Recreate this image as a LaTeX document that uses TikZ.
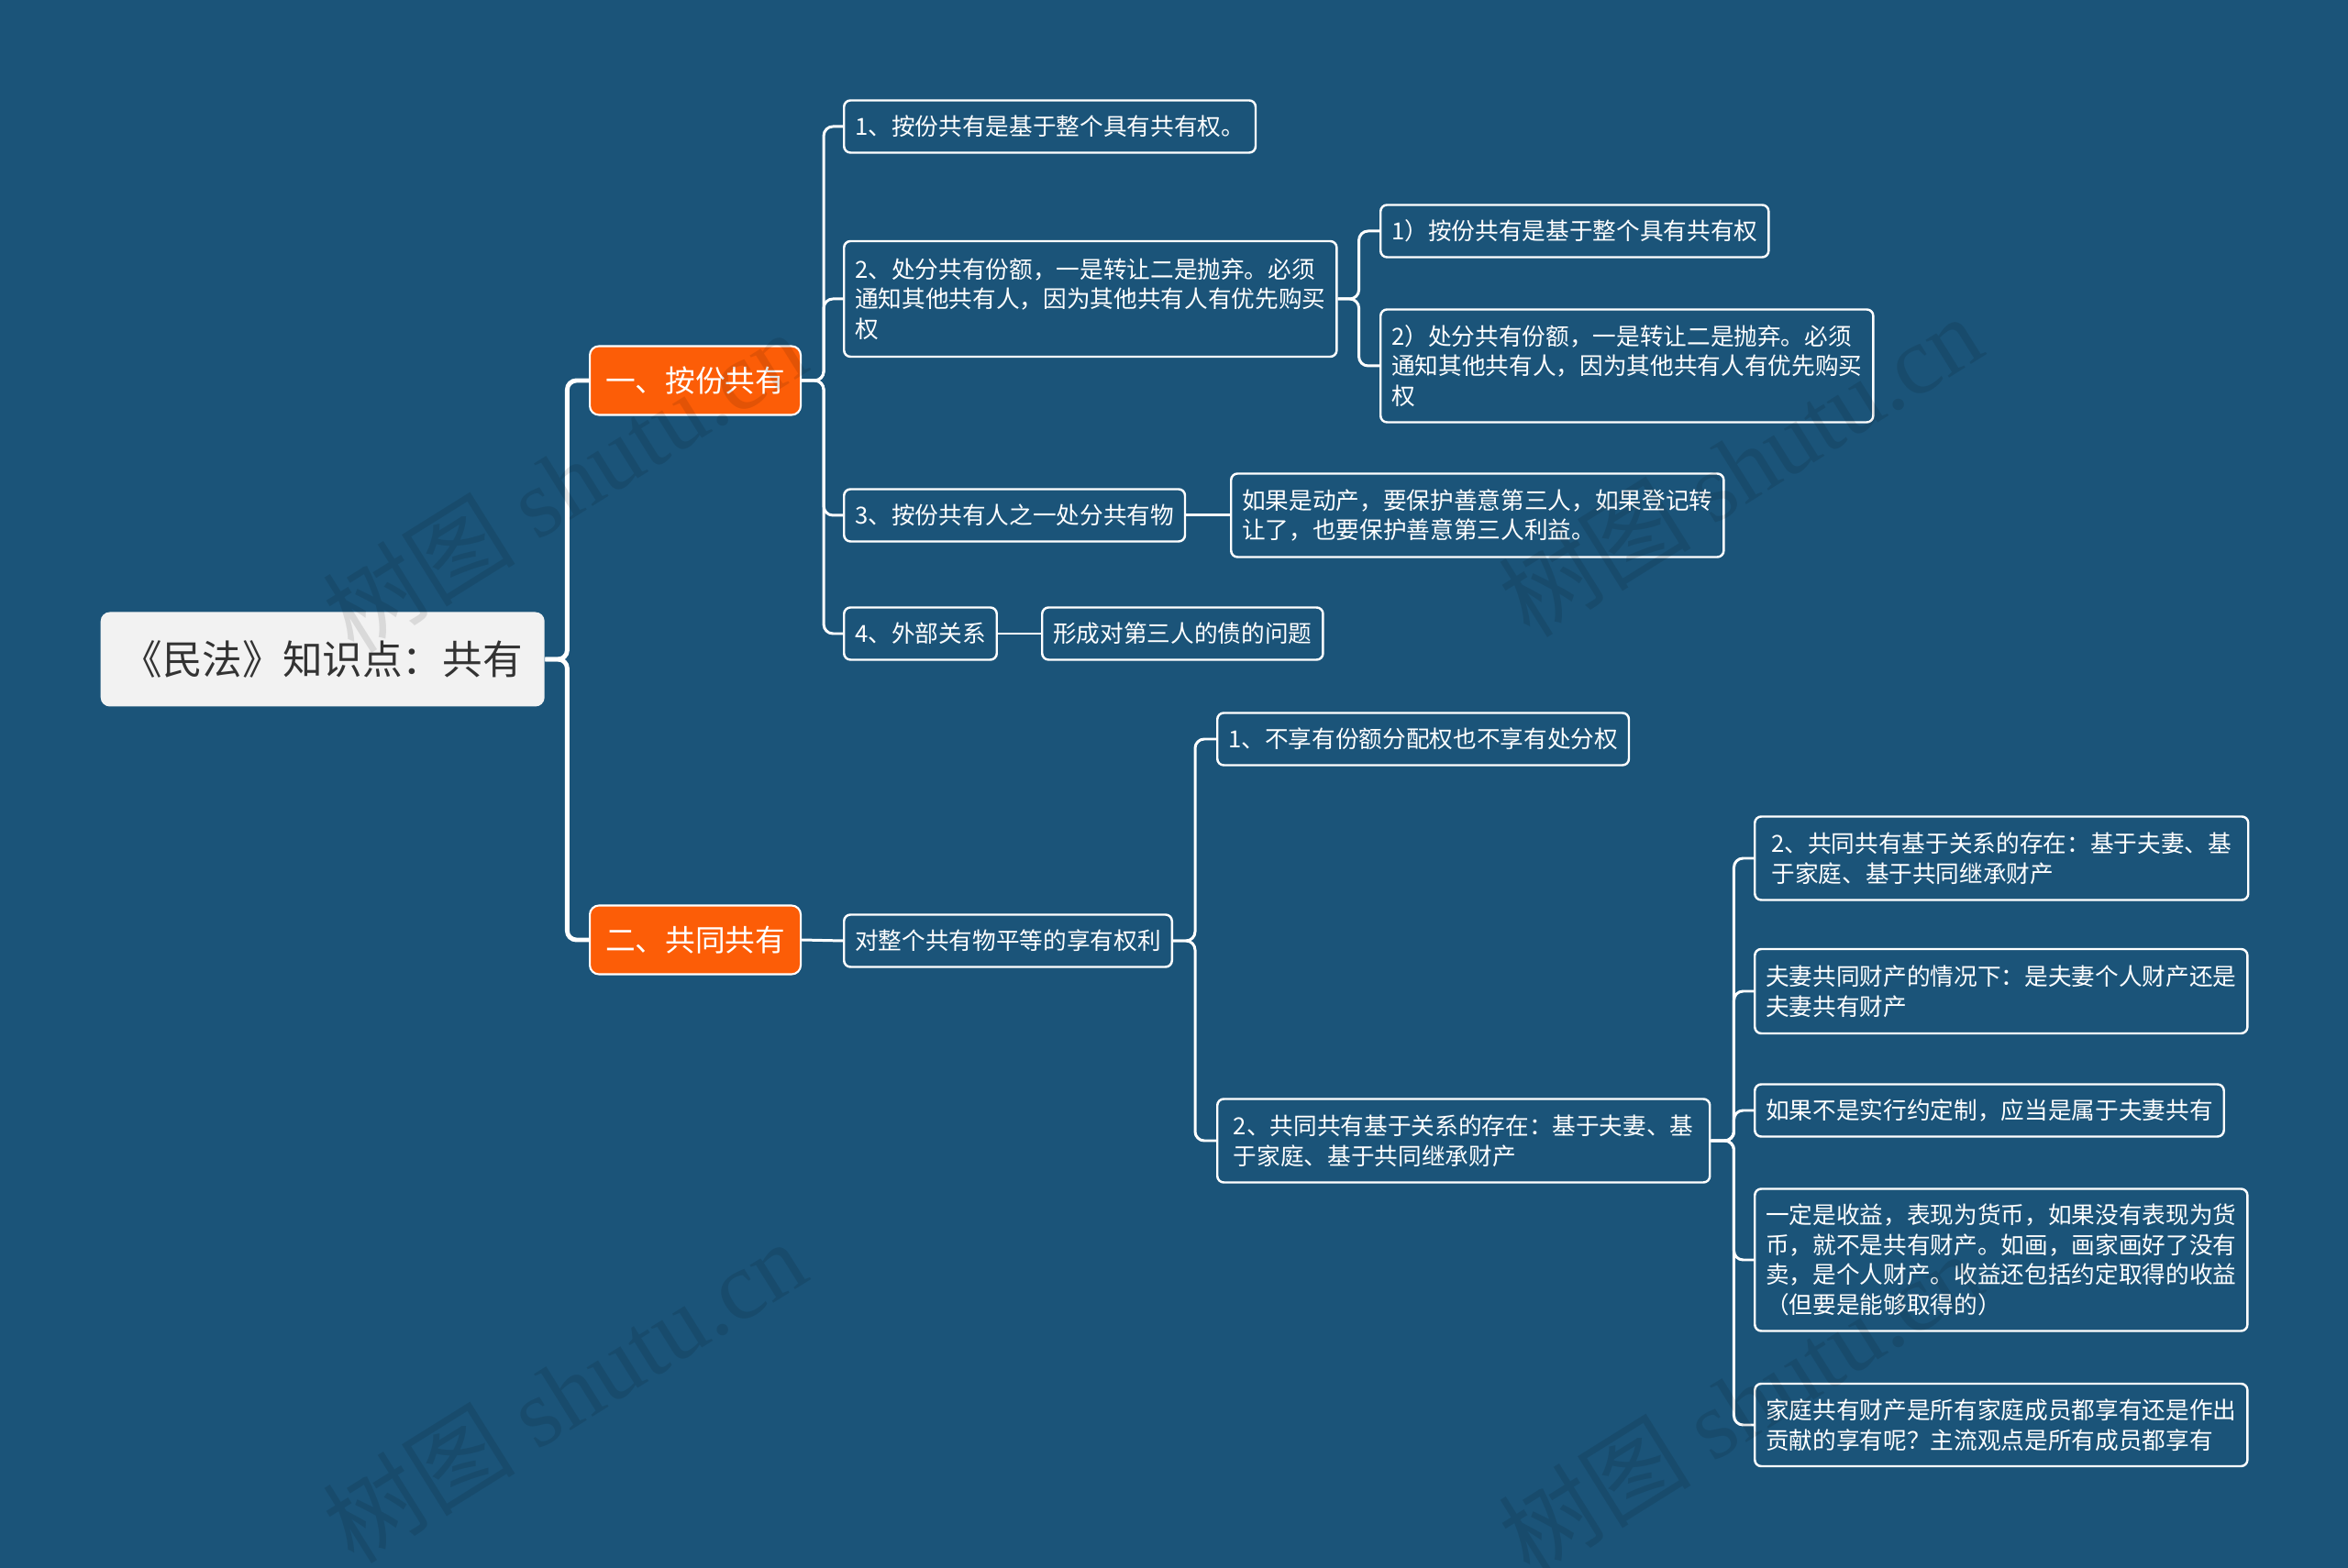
\documentclass[tikz,border=0pt]{standalone}
\usepackage{fontspec}
\setmainfont{Noto Sans CJK SC}
\newfontfamily\wmfont{Liberation Serif}
\usetikzlibrary{positioning}
\definecolor{bgblue}{HTML}{1B5479}
\definecolor{hotorange}{HTML}{FC5D07}
\definecolor{rootgray}{HTML}{F2F2F2}
\definecolor{rootink}{HTML}{333333}

\begin{document}
\begin{tikzpicture}[line join=round,
  leaf/.style={draw=white, line width=0.7pt, fill=bgblue, text=white, rounded corners=0.07cm,
    anchor=west, align=left, inner xsep=0.12cm, inner ysep=0.12cm, minimum height=0.57cm,
    font=\fontsize{7.3}{9.3}\selectfont},
  branch/.style={draw=white, line width=0.6pt, fill=hotorange, text=white, rounded corners=0.1cm,
    anchor=west, minimum width=2.30cm, minimum height=0.75cm, font=\fontsize{9.3}{11}\selectfont},
  link/.style={draw=white, line width=0.85pt, rounded corners=0.1cm},
  mainlink/.style={link, line width=1.4pt}]
  \fill[bgblue] (0,0) rectangle (25.6,-17.1);
  \useasboundingbox (0,0) rectangle (25.6,-17.1);

  \node[fill=rootgray, text=rootink, rounded corners=0.1cm, anchor=west, minimum width=4.84cm,
    minimum height=1.03cm, font=\fontsize{12.4}{14}\selectfont] (root) at (1.09,-7.19) {《民法》知识点：共有};

  \node[branch] (share) at (6.42,-4.15) {一、按份共有};
  \node[branch] (joint) at (6.42,-10.25) {二、共同共有};

  \node[leaf] (s1) at (9.19,-1.38) {1、按份共有是基于整个具有共有权。};
  \node[leaf, minimum height=1.26cm] (s2) at (9.19,-3.26) {2、处分共有份额，一是转让二是抛弃。必须\\通知其他共有人，因为其他共有人有优先购买\\权};
  \node[leaf] (s2a) at (15.04,-2.52) {1）按份共有是基于整个具有共有权};
  \node[leaf, minimum height=1.23cm] (s2b) at (15.04,-3.99) {2）处分共有份额，一是转让二是抛弃。必须\\通知其他共有人，因为其他共有人有优先购买\\权};
  \node[leaf] (s3) at (9.19,-5.62) {3、按份共有人之一处分共有物};
  \node[leaf, minimum height=0.91cm] (s3a) at (13.41,-5.62) {如果是动产，要保护善意第三人，如果登记转\\让了，也要保护善意第三人利益。};
  \node[leaf] (s4) at (9.19,-6.91) {4、外部关系};
  \node[leaf] (s4a) at (11.35,-6.91) {形成对第三人的债的问题};

  \node[leaf] (j1) at (9.19,-10.26) {对整个共有物平等的享有权利};
  \node[leaf] (j1a) at (13.26,-8.06) {1、不享有份额分配权也不享有处分权};
  \node[leaf, minimum height=0.91cm, minimum width=5.37cm] (j1b) at (13.26,-12.44) {2、共同共有基于关系的存在：基于夫妻、基\\于家庭、基于共同继承财产};
  \node[leaf, minimum height=0.91cm, minimum width=5.38cm] (k1) at (19.12,-9.36) {2、共同共有基于关系的存在：基于夫妻、基\\于家庭、基于共同继承财产};
  \node[leaf, minimum height=0.92cm] (k2) at (19.12,-10.81) {夫妻共同财产的情况下：是夫妻个人财产还是\\夫妻共有财产};
  \node[leaf] (k3) at (19.12,-12.11) {如果不是实行约定制，应当是属于夫妻共有};
  \node[leaf, minimum height=1.55cm] (k4) at (19.12,-13.74) {一定是收益，表现为货币，如果没有表现为货\\币，就不是共有财产。如画，画家画好了没有\\卖，是个人财产。收益还包括约定取得的收益\\（但要是能够取得的）};
  \node[leaf, minimum height=0.90cm] (k5) at (19.12,-15.54) {家庭共有财产是所有家庭成员都享有还是作出\\贡献的享有呢？主流观点是所有成员都享有};

  \coordinate (t0) at ([xshift=0.24cm]root.east);
  \coordinate (t1) at ([xshift=0.24cm]share.east);
  \coordinate (t2) at ([xshift=0.23cm]s2.east);
  \coordinate (t3) at ([xshift=0.24cm]j1.east);
  \coordinate (t4) at ([xshift=0.25cm]j1b.east);

  \foreach \c in {share,joint} \draw[mainlink] (root.east) -- (t0) |- (\c.west);
  \foreach \c in {s1,s2,s3,s4} \draw[link] (share.east) -- (t1) |- (\c.west);
  \foreach \c in {s2a,s2b} \draw[link] (s2.east) -- (t2) |- (\c.west);
  \draw[link] (s3.east) -- (s3a.west);
  \draw[link] (s4.east) -- (s4a.west);
  \draw[link] (joint.east) -- (j1.west);
  \foreach \c in {j1a,j1b} \draw[link] (j1.east) -- (t3) |- (\c.west);
  \foreach \c in {k1,k2,k3,k4,k5} \draw[link] (j1b.east) -- (t4) |- (\c.west);

  \foreach \x/\y [count=\i] in {6.15/-5.25, 18.97/-5.08, 6.15/-15.17, 18.97/-15.30}
    \node[rotate=32, text=black, opacity=0.1, font=\fontsize{30}{30}\selectfont] (wm\i) at (\x,\y) {树图 {\wmfont shutu.cn}};
\end{tikzpicture}
\end{document}
